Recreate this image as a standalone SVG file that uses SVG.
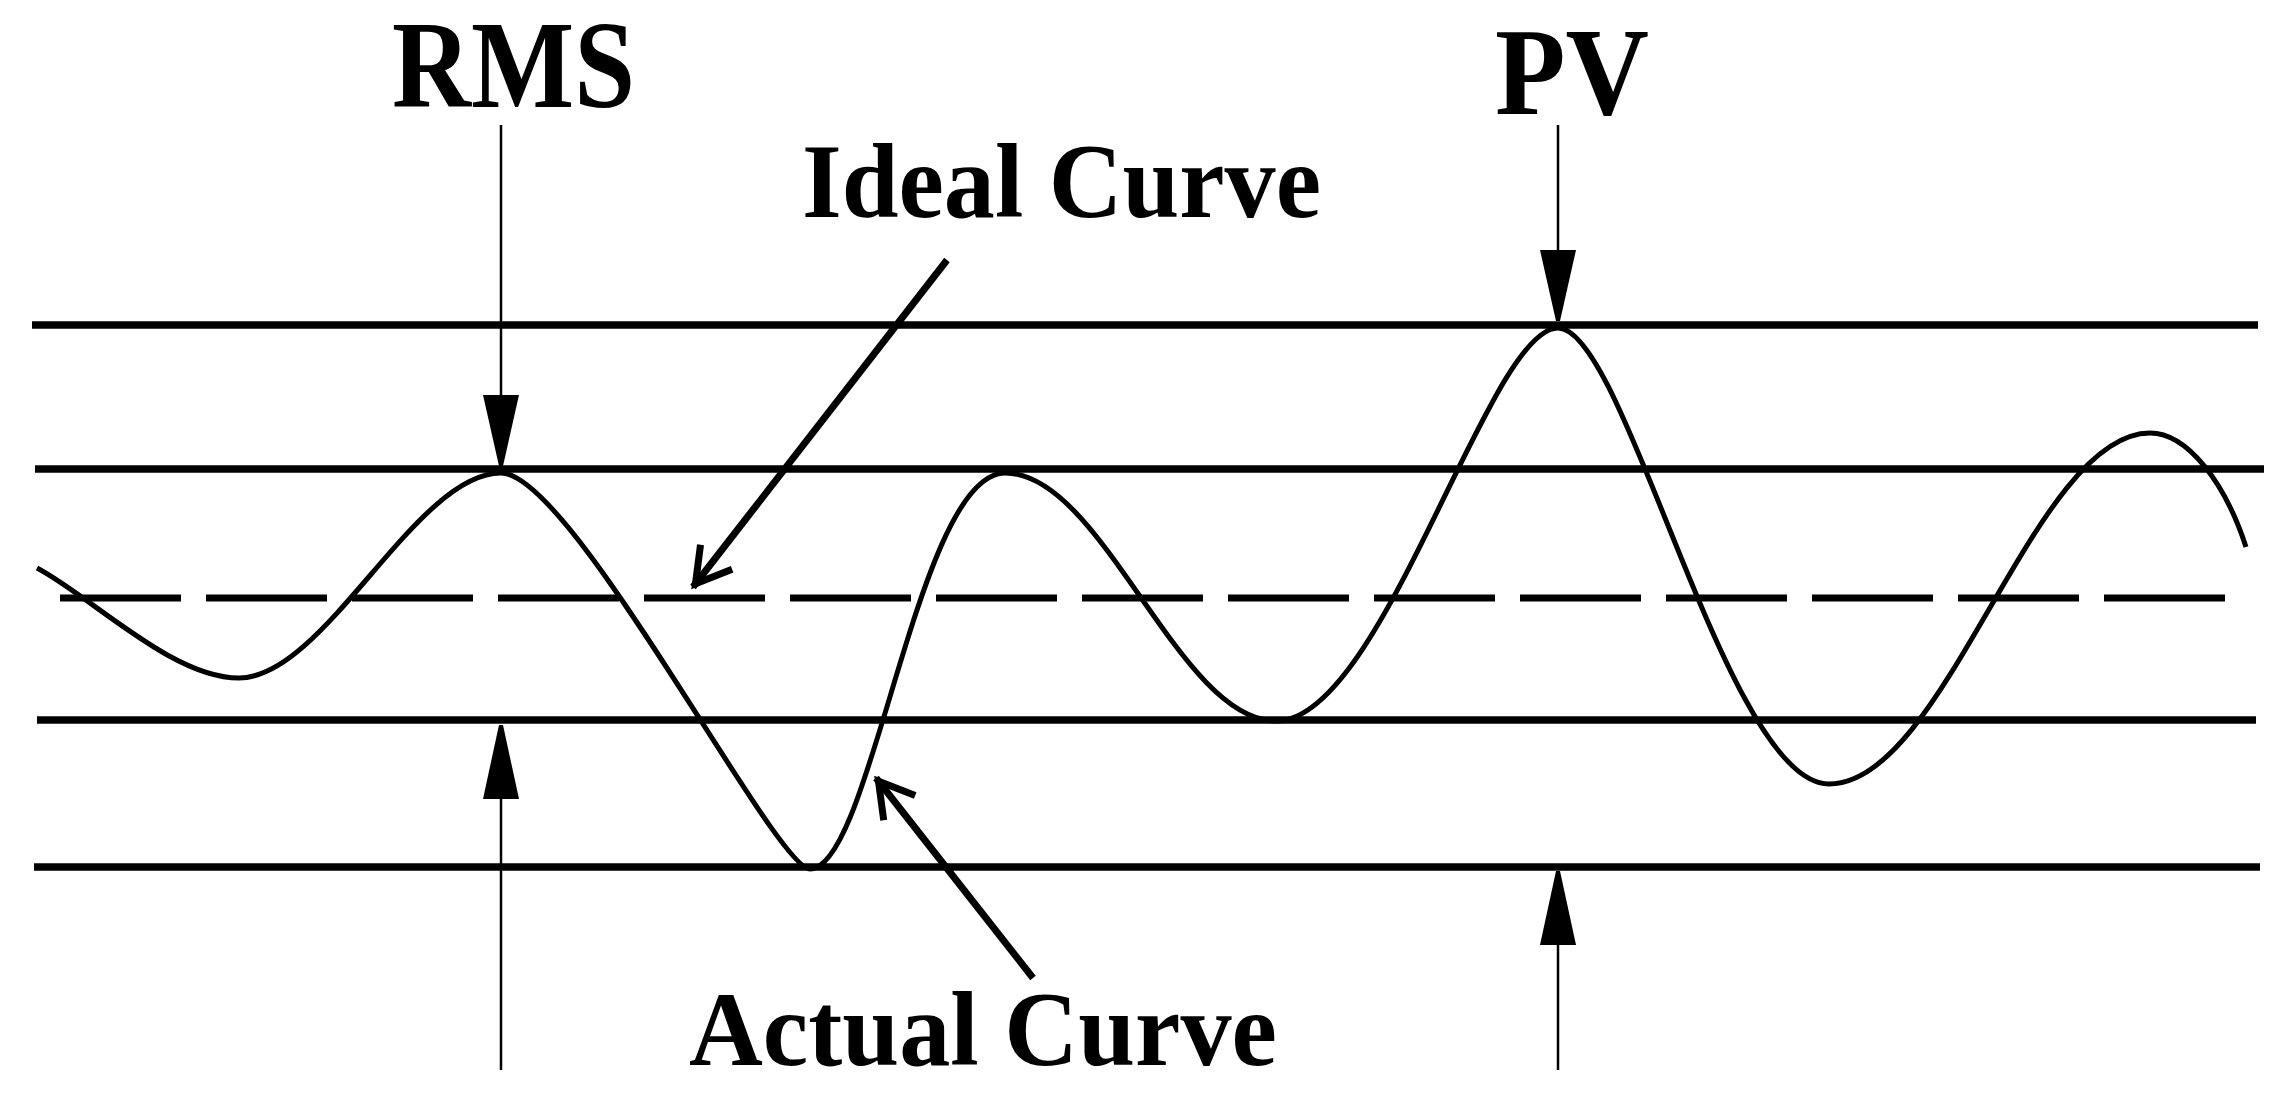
<svg xmlns="http://www.w3.org/2000/svg" width="2284" height="1112" viewBox="0 0 2284 1112">
  <style>
    .lvl { stroke: #000; stroke-width: 7.5; fill: none; }
    .ideal { stroke: #000; stroke-width: 7; fill: none; stroke-dasharray: 121 25; }
    .curve { stroke: #000; stroke-width: 5; fill: none; stroke-linejoin: round; }
    .thin { stroke: #000; stroke-width: 2.5; fill: none; }
    .head { fill: #000; stroke: none; }
    .lead { stroke: #000; stroke-width: 7; fill: none; marker-end: url(#open); }
    .lbl { font-family: "Liberation Serif", "Times New Roman", serif; font-weight: bold; fill: #000; }
  </style>
  <defs>
    <marker id="open" markerUnits="userSpaceOnUse" viewBox="-50 -30 60 60" markerWidth="60" markerHeight="60" refX="0" refY="0" orient="auto" overflow="visible">
      <path d="M-38,-20 L-4,0 L-38,20" fill="none" stroke="#000" stroke-width="7" stroke-linejoin="miter"/>
    </marker>
  </defs>
  <rect width="2284" height="1112" fill="#fff"/>

  <g id="levels">
    <line class="lvl" x1="32" y1="325" x2="2258" y2="325"/>
    <line class="lvl" x1="35" y1="469" x2="2264" y2="469"/>
    <line class="ideal" x1="60" y1="598" x2="2229" y2="598"/>
    <line class="lvl" x1="37" y1="720" x2="2256" y2="720"/>
    <line class="lvl" x1="34" y1="867" x2="2260" y2="867"/>
  </g>

  <g id="actual-curve">
    <path class="curve" d="M37,568 C92,597 172,678 239,678 C325,678 415,473 501,473 C572,473 775,869 810,869 C872,869 917,473 1005,473 C1103,473 1178,721 1276,721 C1383,721 1488,328 1558,328 C1626,328 1726,784 1829,784 C1946,784 2033,433 2150,433 C2187,433 2225,482 2246,547"/>
  </g>

  <g id="label-rms">
    <text class="lbl" x="392" y="107" font-size="124" textLength="243" lengthAdjust="spacingAndGlyphs">RMS</text>
  </g>
  <g id="label-pv">
    <text class="lbl" x="1495" y="114" font-size="124" textLength="154" lengthAdjust="spacingAndGlyphs">PV</text>
  </g>
  <g id="label-ideal">
    <text class="lbl" x="802" y="217" font-size="106" textLength="519" lengthAdjust="spacingAndGlyphs">Ideal Curve</text>
  </g>
  <g id="label-actual">
    <text class="lbl" x="689" y="1065" font-size="105" textLength="588" lengthAdjust="spacingAndGlyphs">Actual Curve</text>
  </g>

  <g id="connectors">
    <line class="thin" x1="501" y1="125" x2="501" y2="400"/>
    <polygon class="head" points="483,395 519,395 503,466 499,466"/>
    <line class="thin" x1="501" y1="1070" x2="501" y2="795"/>
    <polygon class="head" points="483,799 519,799 503,725 499,725"/>
    <line class="thin" x1="1558" y1="125" x2="1558" y2="255"/>
    <polygon class="head" points="1540,250 1576,250 1560,321 1556,321"/>
    <line class="thin" x1="1558" y1="1070" x2="1558" y2="940"/>
    <polygon class="head" points="1540,945 1576,945 1560,871 1556,871"/>
    <line class="lead" x1="947" y1="260" x2="693" y2="587"/>
    <line class="lead" x1="1033" y1="978" x2="876" y2="778"/>
  </g>
</svg>
